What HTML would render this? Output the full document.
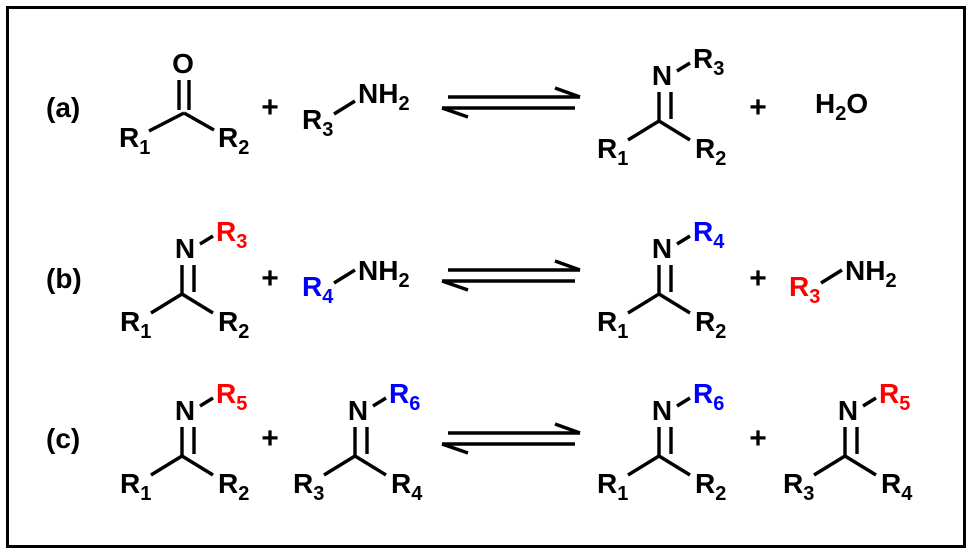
<!DOCTYPE html>
<html><head><style>
html,body{margin:0;padding:0;background:#fff}
svg{display:block}
text{font-family:"Liberation Sans",Arial,sans-serif;font-weight:bold;font-size:28px;fill:#000}
.s{font-size:20px}
.r{fill:#ff0000}.b{fill:#0000ff}
.p{font-size:30px}
line,polyline{stroke:#000;stroke-width:3.4;fill:none}
</style></head><body>
<svg width="972" height="554" viewBox="0 0 972 554" xmlns="http://www.w3.org/2000/svg">
<defs>
<g id="bone">
 <line x1="-3" y1="7" x2="-3" y2="36"/><line x1="9" y1="7" x2="9" y2="34"/>
 <line x1="-3" y1="36" x2="-34" y2="55"/><line x1="-3" y1="36" x2="28" y2="55"/>
 <line x1="15" y1="-14" x2="28" y2="-22"/>
</g>
<g id="kone">
 <line x1="-4" y1="7" x2="-4" y2="37"/><line x1="6" y1="7" x2="6" y2="37"/>
 <line x1="1" y1="40" x2="-34" y2="58"/><line x1="1" y1="40" x2="31" y2="57"/>
</g>
<g id="arr">
 <line x1="448" y1="0" x2="580" y2="0"/><polyline points="555,-9 580,0" />
 <line x1="442" y1="11" x2="575" y2="11"/><polyline points="442,11 468,20"/>
</g>
</defs>
<rect x="7.5" y="7.5" width="957" height="539" fill="none" stroke="#000" stroke-width="3"/>

<!-- row a -->
<text x="46" y="117">(a)</text>
<g transform="translate(183,73)">
 <text x="0" y="0" text-anchor="middle">O</text>
 <use href="#kone"/>
 <text x="-64" y="74">R<tspan class="s" dy="7">1</tspan></text>
 <text x="35" y="74">R<tspan class="s" dy="7">2</tspan></text>
</g>
<text x="270" y="117" text-anchor="middle" class="p">+</text>
<text x="302" y="129">R<tspan class="s" dy="7">3</tspan></text>
<line x1="334" y1="114" x2="355" y2="101"/>
<text x="358" y="103">NH<tspan class="s" dy="7">2</tspan></text>
<g transform="translate(0,97)"><use href="#arr"/></g>
<g transform="translate(662,85)">
 <text x="0" y="0" text-anchor="middle">N</text>
 <use href="#bone"/>
 <text x="31" y="-17">R<tspan class="s" dy="7">3</tspan></text>
 <text x="-65" y="73">R<tspan class="s" dy="7">1</tspan></text>
 <text x="33" y="73">R<tspan class="s" dy="7">2</tspan></text>
</g>
<text x="758" y="117" text-anchor="middle" class="p">+</text>
<text x="815" y="113">H<tspan class="s" dy="7">2</tspan><tspan dy="-7">O</tspan></text>

<!-- row b -->
<text x="46" y="288">(b)</text>
<g transform="translate(185,258)">
 <text x="0" y="0" text-anchor="middle">N</text>
 <use href="#bone"/>
 <text x="31" y="-17" class="r">R<tspan class="s" dy="7">3</tspan></text>
 <text x="-65" y="73">R<tspan class="s" dy="7">1</tspan></text>
 <text x="33" y="73">R<tspan class="s" dy="7">2</tspan></text>
</g>
<text x="270" y="288" text-anchor="middle" class="p">+</text>
<text x="302" y="296" class="b">R<tspan class="s" dy="7">4</tspan></text>
<line x1="334" y1="283" x2="355" y2="270"/>
<text x="358" y="280">NH<tspan class="s" dy="7">2</tspan></text>
<g transform="translate(0,270)"><use href="#arr"/></g>
<g transform="translate(662,258)">
 <text x="0" y="0" text-anchor="middle">N</text>
 <use href="#bone"/>
 <text x="31" y="-17" class="b">R<tspan class="s" dy="7">4</tspan></text>
 <text x="-65" y="73">R<tspan class="s" dy="7">1</tspan></text>
 <text x="33" y="73">R<tspan class="s" dy="7">2</tspan></text>
</g>
<text x="758" y="288" text-anchor="middle" class="p">+</text>
<text x="789" y="296" class="r">R<tspan class="s" dy="7">3</tspan></text>
<line x1="821" y1="283" x2="842" y2="270"/>
<text x="845" y="280">NH<tspan class="s" dy="7">2</tspan></text>

<!-- row c -->
<text x="46" y="448">(c)</text>
<g transform="translate(185,420)">
 <text x="0" y="0" text-anchor="middle">N</text>
 <use href="#bone"/>
 <text x="31" y="-17" class="r">R<tspan class="s" dy="7">5</tspan></text>
 <text x="-65" y="73">R<tspan class="s" dy="7">1</tspan></text>
 <text x="33" y="73">R<tspan class="s" dy="7">2</tspan></text>
</g>
<text x="270" y="448" text-anchor="middle" class="p">+</text>
<g transform="translate(358,420)">
 <text x="0" y="0" text-anchor="middle">N</text>
 <use href="#bone"/>
 <text x="31" y="-17" class="b">R<tspan class="s" dy="7">6</tspan></text>
 <text x="-65" y="73">R<tspan class="s" dy="7">3</tspan></text>
 <text x="33" y="73">R<tspan class="s" dy="7">4</tspan></text>
</g>
<g transform="translate(0,433)"><use href="#arr"/></g>
<g transform="translate(662,420)">
 <text x="0" y="0" text-anchor="middle">N</text>
 <use href="#bone"/>
 <text x="31" y="-17" class="b">R<tspan class="s" dy="7">6</tspan></text>
 <text x="-65" y="73">R<tspan class="s" dy="7">1</tspan></text>
 <text x="33" y="73">R<tspan class="s" dy="7">2</tspan></text>
</g>
<text x="758" y="448" text-anchor="middle" class="p">+</text>
<g transform="translate(848,420)">
 <text x="0" y="0" text-anchor="middle">N</text>
 <use href="#bone"/>
 <text x="31" y="-17" class="r">R<tspan class="s" dy="7">5</tspan></text>
 <text x="-65" y="73">R<tspan class="s" dy="7">3</tspan></text>
 <text x="33" y="73">R<tspan class="s" dy="7">4</tspan></text>
</g>
</svg>
</body></html>
